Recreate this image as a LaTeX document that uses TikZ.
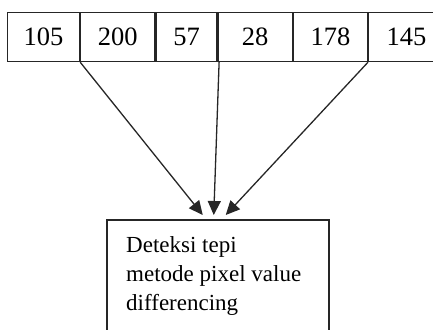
\documentclass[tikz,border=0pt]{standalone}
\usepackage{fontspec}
\setmainfont{Liberation Serif}
\usetikzlibrary{arrows.meta}
\begin{document}
\begin{tikzpicture}[x=1pt,y=-1pt,
  cell/.style={draw=black!85, line width=1.2pt, minimum height=49pt, inner sep=0pt,
    anchor=north west, font=\fontsize{26.5}{30}\selectfont},
  framebox/.style={draw=black!85, line width=1.5pt, inner sep=0pt, anchor=north west},
  flow/.style={draw=black!85, line width=1.3pt, -{Triangle[length=14pt,width=13pt]}}]
\useasboundingbox (0,0) rectangle (433,329);
% row of pixel values
\node[cell, minimum width=72pt] (c1) at (7,12) {105};
\node[cell, minimum width=74pt] (c2) at (c1.north east) {200};
\node[cell, minimum width=61pt] (c3) at (c2.north east) {57};
\node[cell, minimum width=74pt] (c4) at (c3.north east) {28};
\node[cell, minimum width=74pt] (c5) at (c4.north east) {178};
\node[cell, minimum width=76pt] (c6) at (c5.north east) {145};
% process box
\node[framebox, minimum width=222pt, minimum height=130pt] (box) at (106,219) {};
\node[anchor=north west, align=left, inner sep=0pt,
  font=\fontsize{23}{29}\selectfont] (txt) at (126,236)
  {Deteksi tepi\\metode pixel value\\differencing};
% arrow end points just above the box
\coordinate (t1) at ([xshift=-15pt,yshift=4pt]box.north);
\coordinate (t2) at ([xshift=-4pt,yshift=4pt]box.north);
\coordinate (t3) at ([xshift=8pt,yshift=4pt]box.north);
\draw[flow] (c1.south east) -- (t1);
\draw[flow] ([xshift=1.5pt]c3.south east) -- (t2);
\draw[flow] (c5.south east) -- (t3);
\end{tikzpicture}
\end{document}
